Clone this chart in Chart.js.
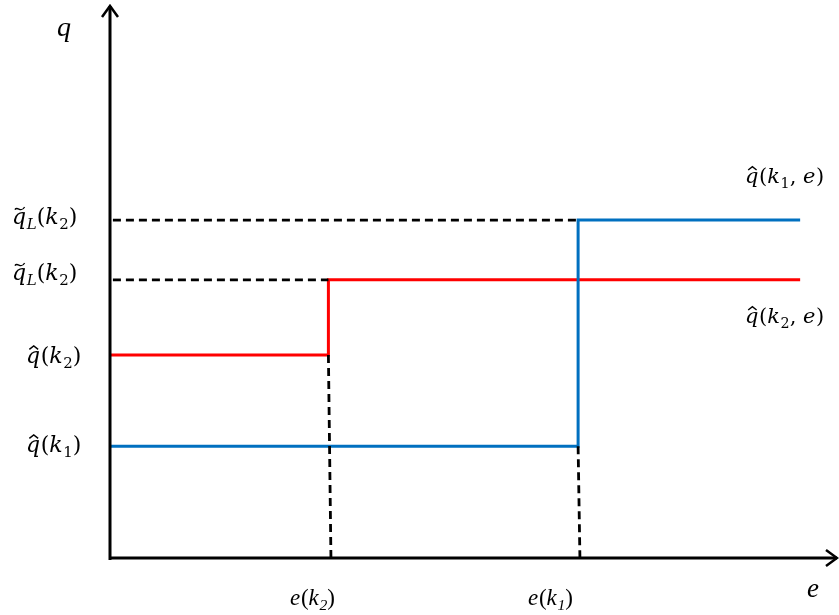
<!DOCTYPE html>
<html>
<head>
<meta charset="utf-8">
<script src="https://cdn.jsdelivr.net/npm/chart.js@4/dist/chart.umd.min.js"></script>
<style>
  html, body { margin: 0; padding: 0; background: #fff; }
  #wrap { width: 839px; height: 615px; }
</style>
</head>
<body>
<div id="wrap"><canvas id="myChart"></canvas></div>
<script>
// values (axis units 0..100)
var eK = [30, 64.3];          // e(k2), e(k1)
var eEnd = 94.8;              // where the schedules stop
var qHat = [20.2, 36.7];      // q^(k1), q^(k2)
var qTilde = [61.1, 50.3];    // upper and lower q~L(k2)

var blueLine = [
  {x: 0, y: qHat[0]}, {x: eK[1], y: qHat[0]},
  {x: eK[1], y: qTilde[0]}, {x: eEnd, y: qTilde[0]}
];
var redLine = [
  {x: 0, y: qHat[1]}, {x: eK[0], y: qHat[1]},
  {x: eK[0], y: qTilde[1]}, {x: eEnd, y: qTilde[1]}
];
var dashTop = [{x: 0.4, y: qTilde[0]}, {x: eK[1], y: qTilde[0]}];
var dashMid = [{x: 0.4, y: qTilde[1]}, {x: eK[0], y: qTilde[1]}];
var dashV2 = [{x: eK[0], y: qHat[1]}, {x: eK[0] + 0.35, y: 0}];
var dashV1 = [{x: eK[1], y: qHat[0]}, {x: eK[1] + 0.25, y: 0}];

function dashed(pts) {
  return {data: pts, borderColor: '#000', borderWidth: 2.8, borderDash: [8, 5],
    pointRadius: 0, fill: false, tension: 0};
}

// draw a label made of pieces: [text, kind] kind: i italic, r roman, s subscript italic, sr subscript roman
function drawMath(ctx, x, y, parts, size, fam, accent) {
  var cx = x;
  parts.forEach(function (p, n) {
    var t = p[0], k = p[1];
    var fs = (k === 's' || k === 'sr') ? size * 0.68 : size;
    var st = (k === 'i' || k === 's') ? 'italic ' : '';
    ctx.font = st + fs + 'px ' + fam;
    var dy = (k === 's' || k === 'sr') ? size * 0.22 : 0;
    ctx.fillText(t, cx, y + dy);
    var w = ctx.measureText(t).width;
    if (n === 0 && accent) {
      var mx = cx + w * 0.55, top = y - size * 0.62;
      ctx.save();
      ctx.lineWidth = 1.4;
      ctx.beginPath();
      if (accent === 'hat') {
        ctx.moveTo(mx - size * 0.2, top);
        ctx.lineTo(mx, top - size * 0.16);
        ctx.lineTo(mx + size * 0.2, top);
      } else {
        var a = mx - size * 0.22, b = mx + size * 0.22, h = size * 0.07;
        ctx.moveTo(a, top - h * 0.5);
        ctx.bezierCurveTo(a + size * 0.12, top - h * 3, b - size * 0.16, top + h * 2, b, top - h * 2.2);
      }
      ctx.stroke();
      ctx.restore();
    }
    cx += w + (k === 'i' ? size * 0.03 : 0);
  });
}

var axesPlugin = {
  id: 'axesPlugin',
  afterDatasetsDraw: function (chart) {
    var ctx = chart.ctx, a = chart.chartArea;
    var x0 = a.left, y0 = a.bottom;
    ctx.save();
    ctx.strokeStyle = '#000';
    ctx.fillStyle = '#000';
    ctx.lineWidth = 3;
    ctx.lineCap = 'butt';
    ctx.beginPath();
    ctx.moveTo(x0, y0 + 2); ctx.lineTo(x0, a.top + 1);
    ctx.moveTo(x0 - 1, y0); ctx.lineTo(a.right - 1, y0);
    ctx.stroke();
    ctx.lineWidth = 2.5;
    ctx.lineJoin = 'miter';
    ctx.beginPath();
    ctx.moveTo(x0 - 8, a.top + 12); ctx.lineTo(x0, a.top + 1); ctx.lineTo(x0 + 8, a.top + 12);
    ctx.moveTo(a.right - 12, y0 - 8); ctx.lineTo(a.right - 1, y0); ctx.lineTo(a.right - 12, y0 + 8);
    ctx.stroke();

    var cam = '"DejaVu Serif"';
    var tim = '"Liberation Serif"';
    ctx.textBaseline = 'alphabetic';
    ctx.textAlign = 'left';
    drawMath(ctx, 57, 36, [['q', 'i']], 28, tim);
    drawMath(ctx, 807, 597, [['e', 'i']], 27, tim);
    drawMath(ctx, 12, 224, [['q', 'i'], ['L', 's'], ['(', 'r'], ['k', 'i'], ['2', 'sr'], [')', 'r']], 22, cam, 'tilde');
    drawMath(ctx, 12, 280, [['q', 'i'], ['L', 's'], ['(', 'r'], ['k', 'i'], ['2', 'sr'], [')', 'r']], 22, cam, 'tilde');
    drawMath(ctx, 26, 363, [['q', 'i'], ['(', 'r'], ['k', 'i'], ['2', 'sr'], [')', 'r']], 22, cam, 'hat');
    drawMath(ctx, 26, 452, [['q', 'i'], ['(', 'r'], ['k', 'i'], ['1', 'sr'], [')', 'r']], 22, cam, 'hat');
    drawMath(ctx, 745, 183, [['q', 'i'], ['(', 'r'], ['k', 'i'], ['1', 'sr'], [',', 'r'], [' e', 'i'], [')', 'r']], 21, cam, 'hat');
    drawMath(ctx, 745, 323, [['q', 'i'], ['(', 'r'], ['k', 'i'], ['2', 'sr'], [',', 'r'], [' e', 'i'], [')', 'r']], 21, cam, 'hat');
    drawMath(ctx, 290, 605, [['e', 'i'], ['(', 'r'], ['k', 'i'], ['2', 's'], [')', 'r']], 23, tim);
    drawMath(ctx, 528, 605, [['e', 'i'], ['(', 'r'], ['k', 'i'], ['1', 's'], [')', 'r']], 23, tim);
    ctx.restore();
  }
};

new Chart(document.getElementById('myChart'), {
  type: 'line',
  data: {
    datasets: [
      dashed(dashTop), dashed(dashMid), dashed(dashV2), dashed(dashV1),
      {data: blueLine, borderColor: '#0070C0', borderWidth: 3, pointRadius: 0, fill: false, tension: 0},
      {data: redLine, borderColor: '#FF0000', borderWidth: 3, pointRadius: 0, fill: false, tension: 0}
    ]
  },
  options: {
    responsive: true,
    maintainAspectRatio: false,
    animation: false,
    layout: {padding: {left: 110, right: 1, top: 5, bottom: 57}},
    plugins: {legend: {display: false}, tooltip: {enabled: false}},
    scales: {
      x: {type: 'linear', min: 0, max: 100, display: false},
      y: {type: 'linear', min: 0, max: 100, display: false}
    }
  },
  plugins: [axesPlugin]
});
</script>
</body>
</html>
